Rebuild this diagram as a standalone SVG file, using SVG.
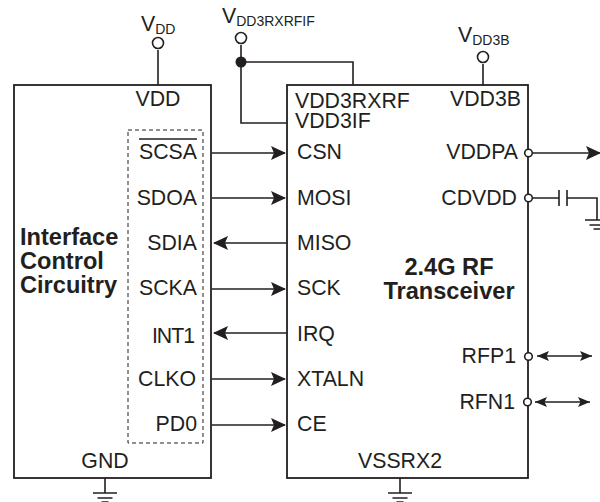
<svg xmlns="http://www.w3.org/2000/svg" width="600" height="502" viewBox="0 0 600 502">
<style>
text{font-family:"Liberation Sans",Arial,sans-serif;font-size:21.3px;fill:#231f20}
.b{font-weight:bold;font-size:23.6px}
.e{text-anchor:end}
.m{text-anchor:middle}
.s{font-size:14px}
.w{fill:none;stroke:#231f20;stroke-width:1.6}
.box{fill:#fff;stroke:#231f20;stroke-width:1.8}
.d{fill:none;stroke:#231f20;stroke-width:1;stroke-dasharray:4 3}
.o{fill:#fff;stroke:#231f20;stroke-width:1.6}
</style>
<defs>
<marker id="a" viewBox="0 0 15 14" refX="14" refY="7" markerWidth="15" markerHeight="14" markerUnits="userSpaceOnUse" orient="auto-start-reverse"><path d="M0 0L15 7L0 14L3 7Z" fill="#231f20"/></marker>
<marker id="a2" viewBox="0 0 12 10" refX="12" refY="5" markerWidth="12" markerHeight="10" markerUnits="userSpaceOnUse" orient="auto-start-reverse"><path d="M0 0L12 5L0 10L2.500 5Z" fill="#231f20"/></marker>
<g id="gnd"><path class="w" d="M-12 0H12M-7.500 5H7.500M-3.500 9H3.500"/></g>
</defs>
<g id="connectors">
<path class="w" d="M158 50V85"/>
<path class="w" d="M241 45V123H287M241 62H353V85"/>
<path class="w" d="M483 64V85"/>
<path class="d" d="M158 107V130"/>
<path class="w" marker-end="url(#a)" d="M212 153H285"/>
<path class="w" marker-end="url(#a)" d="M212 198H285"/>
<path class="w" marker-end="url(#a)" d="M287 243H214"/>
<path class="w" marker-end="url(#a)" d="M212 289H285"/>
<path class="w" marker-end="url(#a)" d="M287 333H214"/>
<path class="w" marker-end="url(#a)" d="M212 379H285"/>
<path class="w" marker-end="url(#a)" d="M212 425H285"/>
<path class="w" marker-end="url(#a)" d="M533 153H600"/>
<path class="w" d="M533 198H559M559 190V206M567 190V206M567 198H597V220"/>
<use href="#gnd" x="597" y="220"/>
<path class="w" marker-start="url(#a2)" marker-end="url(#a2)" d="M537 356H592"/>
<path class="w" marker-start="url(#a2)" marker-end="url(#a2)" d="M535 402H590"/>
<path class="w" d="M105 478V493"/>
<use href="#gnd" x="105" y="493"/>
<path class="w" d="M400 478V493"/>
<use href="#gnd" x="400" y="493"/>
</g>
<g id="interface-control">
<rect class="box" x="14" y="85" width="197" height="393"/>
<rect class="d" x="128" y="130" width="75" height="313"/>
<text class="m" x="158" y="106">VDD</text>
<path class="w" d="M139 139H197"/>
<text class="e" x="197" y="159">SCSA</text>
<text class="e" x="197" y="205">SDOA</text>
<text class="e" x="197" y="250">SDIA</text>
<text class="e" x="197" y="295">SCKA</text>
<text class="e" x="195" y="343" textLength="43">INT1</text>
<text class="e" x="196" y="386">CLKO</text>
<text class="e" x="197" y="431">PD0</text>
<text class="m" x="105" y="468">GND</text>
<text class="b" x="20" y="245">Interface</text>
<text class="b" x="20" y="269">Control</text>
<text class="b" x="20" y="293">Circuitry</text>
</g>
<g id="rf-transceiver">
<rect class="box" x="287" y="85" width="241" height="393"/>
<text x="295" y="108">VDD3RXRF</text>
<text x="295" y="128">VDD3IF</text>
<text x="297" y="159">CSN</text>
<text x="297" y="205">MOSI</text>
<text x="297" y="250">MISO</text>
<text x="297" y="295">SCK</text>
<text x="297" y="341">IRQ</text>
<text x="297" y="386">XTALN</text>
<text x="297" y="431">CE</text>
<text class="e" x="521" y="106">VDD3B</text>
<text class="e" x="518" y="159">VDDPA</text>
<text class="e" x="517" y="205">CDVDD</text>
<text class="b m" x="449" y="275">2.4G RF</text>
<text class="b m" x="449" y="299">Transceiver</text>
<text class="e" x="516" y="363">RFP1</text>
<text class="e" x="515" y="409">RFN1</text>
<text class="m" x="400" y="468">VSSRX2</text>
</g>
<g id="vdd"><circle class="o" cx="158" cy="43" r="5.500"/><text x="141" y="31">V<tspan class="s" y="33.500">DD</tspan></text></g>
<g id="vdd3rxrfif"><circle class="o" cx="241" cy="38" r="5.500"/><circle cx="241" cy="62" r="5.500" fill="#231f20"/><text x="222" y="23">V<tspan class="s" y="25.500">DD3RXRFIF</tspan></text></g>
<g id="vdd3b"><circle class="o" cx="483" cy="57" r="5.500"/><text x="458" y="42">V<tspan class="s" y="45">DD3B</tspan></text></g>
<g id="pins">
<circle class="o" cx="528.500" cy="153" r="3.800"/>
<circle class="o" cx="528.500" cy="198" r="3.800"/>
<circle class="o" cx="528.500" cy="356.500" r="3.800"/>
<circle class="o" cx="527.500" cy="402" r="3.800"/>
</g>
</svg>
